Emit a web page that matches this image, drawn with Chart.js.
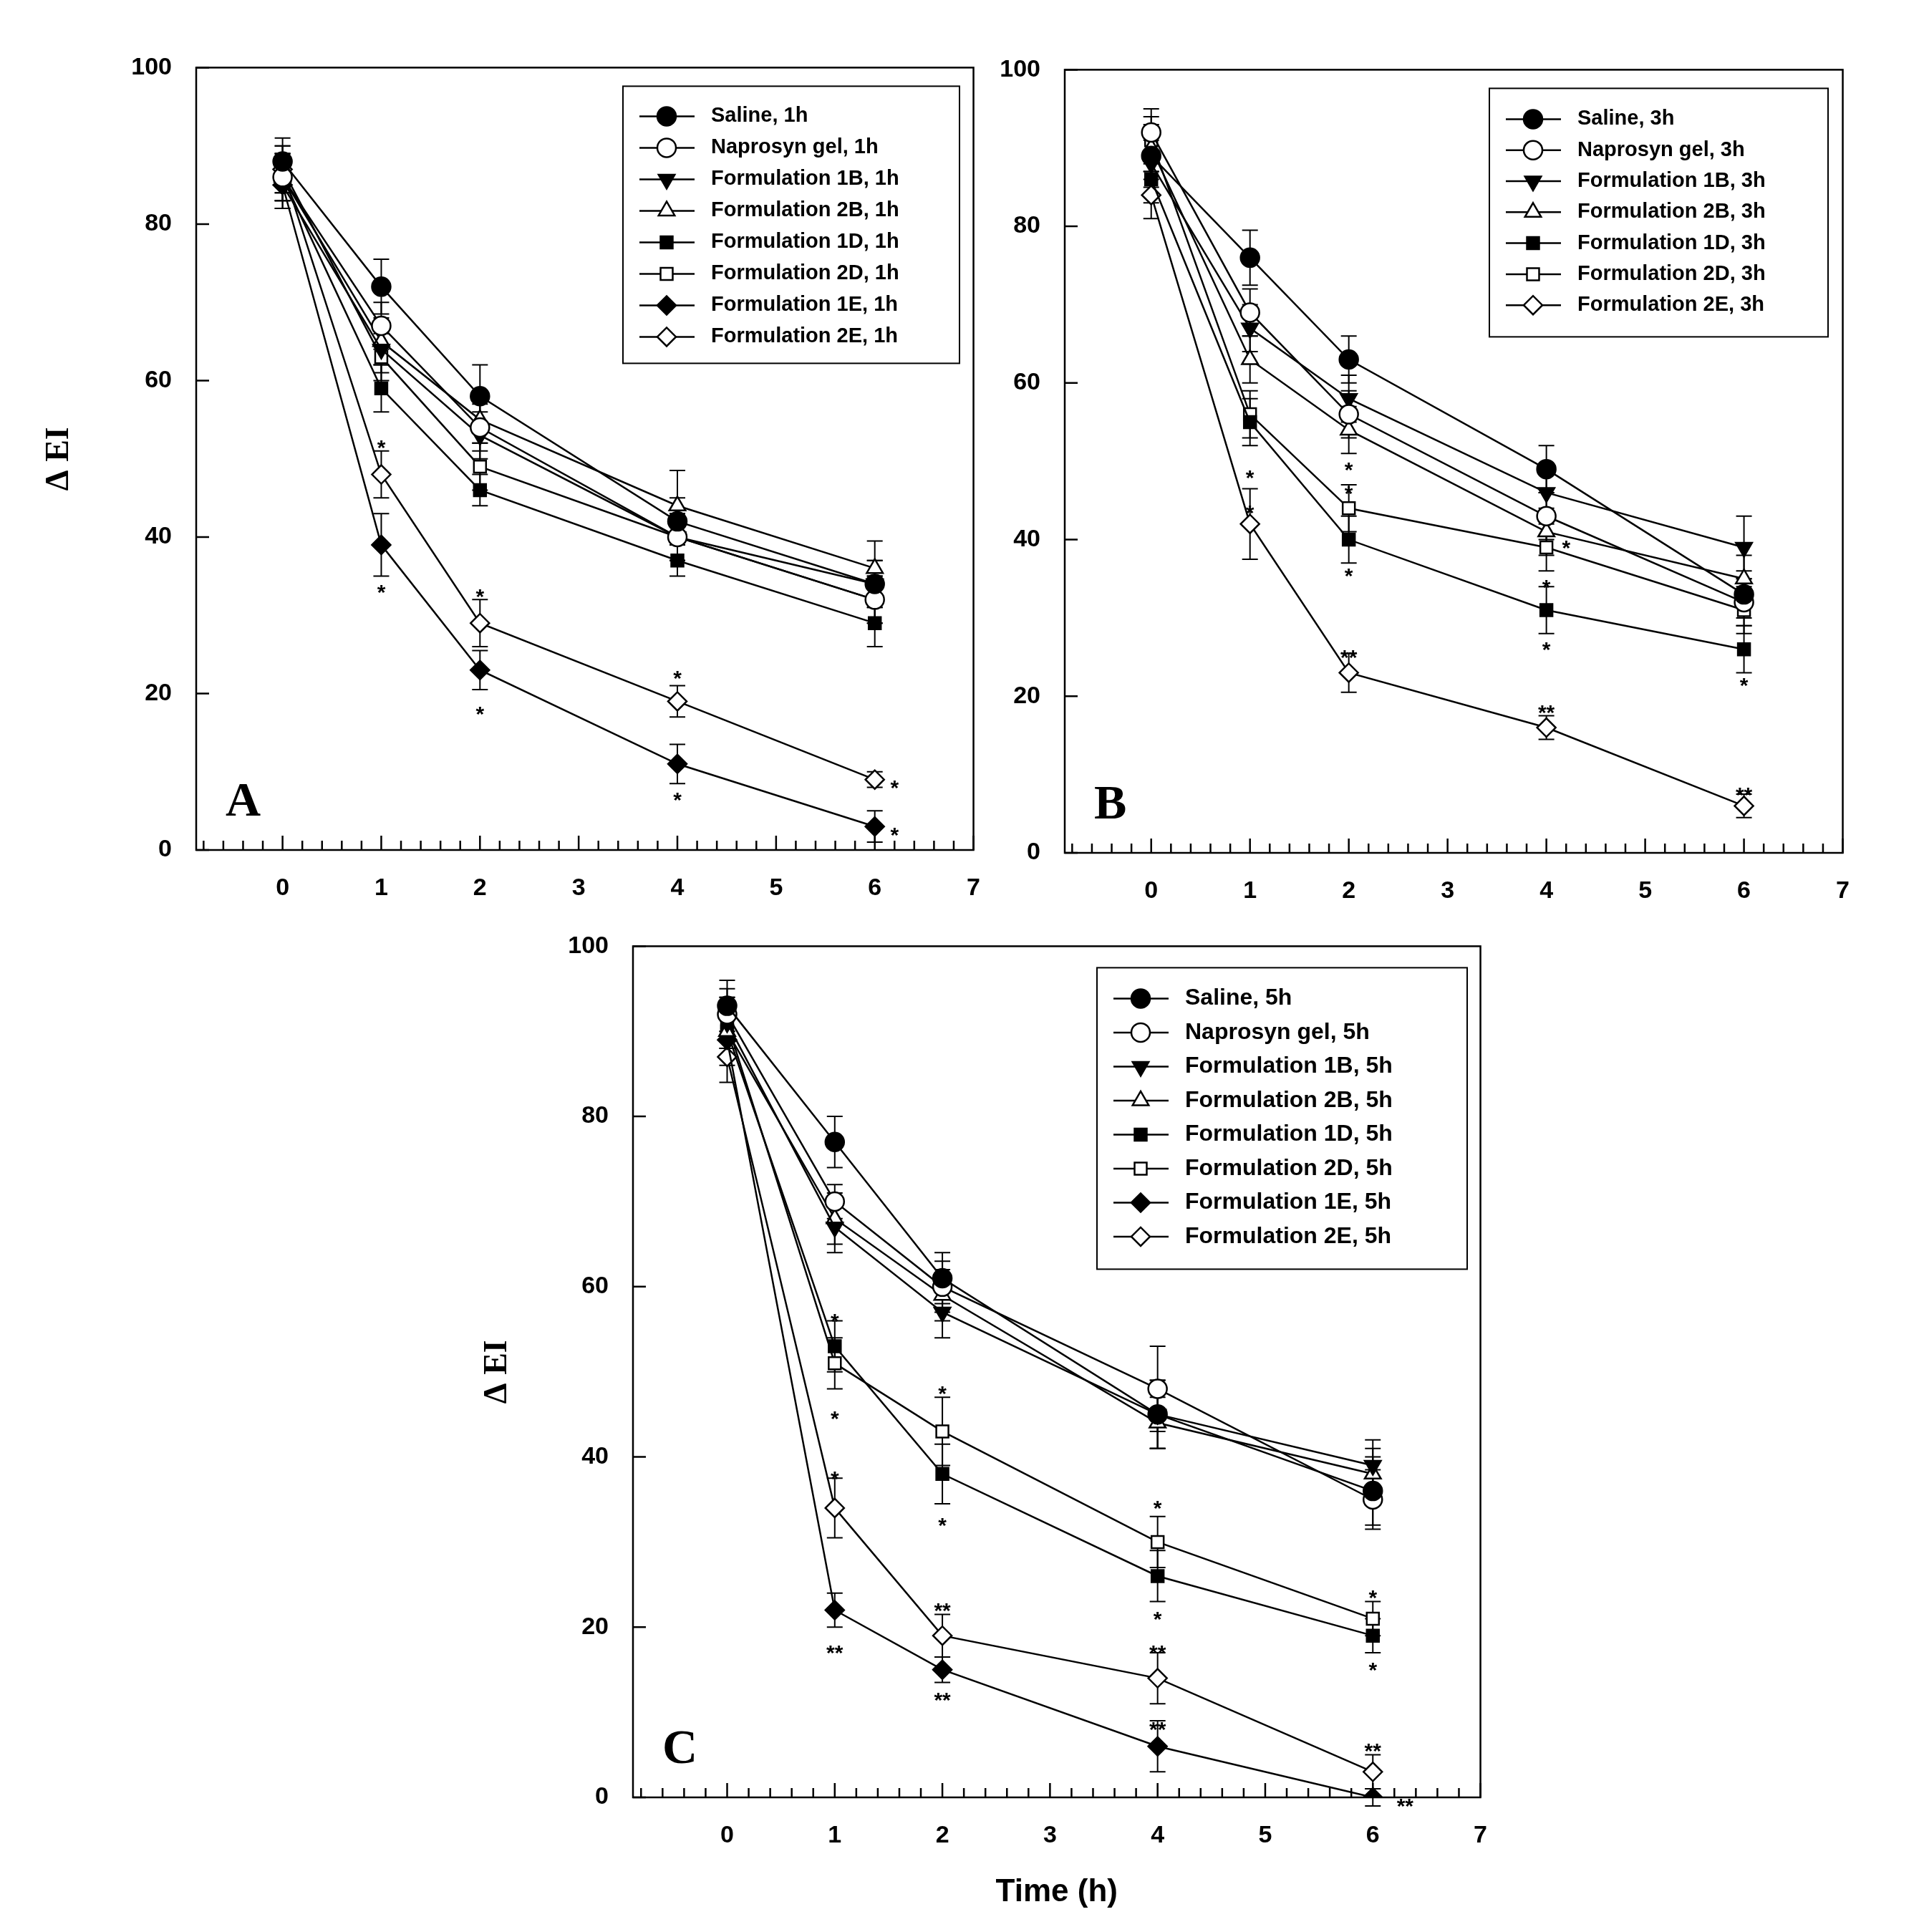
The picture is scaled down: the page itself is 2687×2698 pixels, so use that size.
<!DOCTYPE html>
<html>
<head>
<meta charset="utf-8">
<script src="https://cdn.jsdelivr.net/npm/chart.js@4.4.0/dist/chart.umd.min.js"></script>
<style>
  body { margin: 0; background: #fff; width: 2687px; height: 2698px; position: relative; overflow: hidden; }
  canvas { position: absolute; }
</style>
</head>
<body>
<canvas id="panelA" style="left:0px;top:48px;width:1394px;height:1219px" width="1394" height="1219"></canvas>
<canvas id="panelB" style="left:1367px;top:51px;width:1241px;height:1220px" width="1241" height="1220"></canvas>
<canvas id="panelC" style="left:650px;top:1275px;width:1452px;height:1415px" width="1452" height="1415"></canvas>
<script>
// time points (h)
const times = [0, 1, 2, 4, 6];
const xTickLabels = [0, 1, 2, 3, 4, 5, 6, 7];
const yTickLabels = [0, 20, 40, 60, 80, 100];

// series styles (marker, filled?)
const seriesNames = ["Saline", "Naprosyn gel", "Formulation 1B", "Formulation 2B",
                     "Formulation 1D", "Formulation 2D", "Formulation 1E", "Formulation 2E"];
const markerStyle = [["circle", true, 0], ["circle", false, 0], ["triangle", true, 180], ["triangle", false, 0],
                     ["rect", true, 0], ["rect", false, 0], ["rectRot", true, 0], ["rectRot", false, 0]];

// Panel A - 1h
const aSaline    = [88, 72, 58, 42, 34];
const aNaprosyn  = [86, 67, 54, 40, 32];
const a1B        = [85, 64, 53, 40, 34];
const a2B        = [86, 65, 55, 44, 36];
const a1D        = [86, 59, 46, 37, 29];
const a2D        = [87, 63, 49, 40, 32];
const a1E        = [85, 39, 23, 11, 3];
const a2E        = [87, 48, 29, 19, 9];
const aErr       = [[3, 3.5, 4, 3, 3], [3, 3, 3, 3, 3], [3, 3, 3, 3, 3], [3, 3, 3, 4.5, 3.5],
                    [3, 3, 2, 2, 3], [3, 3, 3, 3, 3], [3, 4, 2.5, 2.5, 2], [3, 3, 3, 2, 1]];
const aStars     = [[1, 52, "*"], [1, 33.5, "*"], [2, 33, "*"], [2, 18, "*"], [4, 22.5, "*"], [4, 7, "*"],
                    [6.2, 8.5, "*"], [6.2, 2.5, "*"]];

// Panel B - 3h
const bSaline    = [89, 76, 63, 49, 33];
const bNaprosyn  = [92, 69, 56, 43, 32];
const b1B        = [88, 67, 58, 46, 39];
const b2B        = [90, 63, 54, 41, 35];
const b1D        = [86, 55, 40, 31, 26];
const b2D        = [91, 56, 44, 39, 31];
const b2E        = [84, 42, 23, 16, 6];
const bErr       = [[3, 3.5, 3, 3, 3], [3, 3, 3, 3, 3], [3, 3, 3, 3, 4], [3, 3, 3, 3, 3],
                    [3, 3, 3, 3, 3], [3, 3, 3, 3, 3], [3, 4.5, 2.5, 1.5, 1.5]];
const bStars     = [[1, 48.5, "*"], [1, 44, "*"], [2, 49.5, "*"], [2, 46.5, "*"], [2, 36, "*"], [2, 25.5, "**"],
                    [4.2, 39.5, "*"], [4, 34.5, "*"], [4, 26.5, "*"], [4, 18.5, "**"], [6, 22, "*"], [6, 8, "**"]];

// Panel C - 5h
const cSaline    = [93, 77, 61, 45, 36];
const cNaprosyn  = [92, 70, 60, 48, 35];
const c1B        = [91, 67, 57, 45, 39];
const c2B        = [90, 68, 59, 44, 38];
const c1D        = [90, 53, 38, 26, 19];
const c2D        = [91, 51, 43, 30, 21];
const c1E        = [89, 22, 15, 6, 0];
const c2E        = [87, 34, 19, 14, 3];
const cErr       = [[3, 3, 3, 4, 4], [3, 2, 3, 5, 3.5], [3, 3, 3, 4, 3], [3, 3, 3, 3, 3],
                    [3, 3, 3.5, 3, 2], [3, 3, 4, 3, 2], [3, 2, 1.5, 3, 1], [3, 3.5, 2.5, 3, 2]];
const cStars     = [[1, 56.5, "*"], [1, 45, "*"], [1, 38, "*"], [1, 17.5, "**"], [2, 48, "*"], [2, 32.5, "*"],
                    [2, 22.5, "**"], [2, 12, "**"], [4, 34.5, "*"], [4, 21.5, "*"], [4, 17.5, "**"], [4, 8.5, "**"],
                    [6, 24, "*"], [6, 15.5, "*"], [6, 6, "**"], [6.3, -0.5, "**"]];

const FONT = "'Liberation Sans', Arial, sans-serif";

function buildDatasets(seriesList, styleIdx, errs) {
  return seriesList.map((vals, i) => {
    const [ps, filled, rot] = markerStyle[styleIdx[i]];
    return {
      data: times.map((t, k) => ({ x: t, y: vals[k] })),
      errs: errs[i],
      borderColor: "#000",
      backgroundColor: filled ? "#000" : "#fff",
      pointBorderColor: "#000",
      pointBackgroundColor: filled ? "#000" : "#fff",
      pointStyle: ps,
      pointRotation: rot,
      pointRadius: ps === "rect" ? 12 : 13,
      pointBorderWidth: 2.5,
      borderWidth: 2.5,
      tension: 0
    };
  });
}

const panelPlugin = {
  id: "panelExtras",
  beforeDatasetsDraw(chart) {
    const { ctx, chartArea: ca } = chart;
    const xs = chart.scales.x, ys = chart.scales.y;
    ctx.save();
    ctx.strokeStyle = "#000";
    // error bars
    ctx.lineWidth = 2;
    chart.data.datasets.forEach(ds => {
      ds.data.forEach((p, k) => {
        const e = ds.errs[k];
        const px = xs.getPixelForValue(p.x);
        const y1 = ys.getPixelForValue(p.y + e), y2 = ys.getPixelForValue(p.y - e);
        ctx.beginPath();
        ctx.moveTo(px, y1); ctx.lineTo(px, y2);
        ctx.moveTo(px - 11, y1); ctx.lineTo(px + 11, y1);
        ctx.moveTo(px - 11, y2); ctx.lineTo(px + 11, y2);
        ctx.stroke();
      });
    });
    // frame
    ctx.lineWidth = 2.5;
    ctx.strokeRect(ca.left, ca.top, ca.right - ca.left, ca.bottom - ca.top);
    // x minor/major ticks
    ctx.beginPath();
    for (let v = -0.8; v <= 7.001; v += 0.2) {
      const px = xs.getPixelForValue(v);
      const major = Math.abs(v - Math.round(v)) < 0.01;
      ctx.moveTo(px, ca.bottom);
      ctx.lineTo(px, ca.bottom - (major ? 20 : 13));
    }
    yTickLabels.forEach(v => {
      const py = ys.getPixelForValue(v);
      ctx.moveTo(ca.left, py); ctx.lineTo(ca.left + 18, py);
    });
    ctx.stroke();
    ctx.restore();
  },
  afterDatasetsDraw(chart) {
    const { ctx, chartArea: ca } = chart;
    const o = chart.options.plugins.panelExtras;
    const xs = chart.scales.x, ys = chart.scales.y;
    ctx.save();
    // significance stars
    ctx.fillStyle = "#000";
    ctx.font = "bold 30px " + FONT;
    ctx.textAlign = "center";
    ctx.textBaseline = "middle";
    o.stars.forEach(([x, y, s]) => ctx.fillText(s, xs.getPixelForValue(x), ys.getPixelForValue(y) + 8));
    // panel letter
    ctx.font = "bold 68px 'Liberation Serif', 'Times New Roman', serif";
    ctx.textAlign = "left";
    ctx.textBaseline = "alphabetic";
    ctx.fillText(o.letter, ca.left + 41, ca.bottom - 48);
    // legend
    const L = o.legend;
    const bx = ca.left + L.dx, by = ca.top + L.dy;
    ctx.lineWidth = 2;
    ctx.strokeStyle = "#000";
    ctx.fillStyle = "#fff";
    ctx.fillRect(bx, by, L.w, L.h);
    ctx.strokeRect(bx, by, L.w, L.h);
    ctx.font = "bold " + L.font + "px " + FONT;
    ctx.textBaseline = "middle";
    chart.data.datasets.forEach((ds, i) => {
      const y = by + L.first + i * L.step;
      ctx.beginPath();
      ctx.lineWidth = 2.5;
      ctx.moveTo(bx + 23, y); ctx.lineTo(bx + 100, y);
      ctx.stroke();
      ctx.fillStyle = ds.pointBackgroundColor;
      Chart.helpers.drawPoint(ctx, { pointStyle: ds.pointStyle, rotation: ds.pointRotation,
        radius: ds.pointRadius, borderWidth: 2.5 }, bx + 61, y);
      ctx.fillStyle = "#000";
      ctx.fillText(L.labels[i], bx + 123, y);
    });
    ctx.restore();
  }
};

function makePanel(id, datasets, extras, yWidth, xHeight, yTitle, yTitlePad, xTitle) {
  new Chart(document.getElementById(id), {
    type: "line",
    data: { datasets },
    plugins: [panelPlugin],
    options: {
      responsive: false,
      animation: false,
      layout: { padding: { top: 30, right: 30, left: 0, bottom: 0 } },
      plugins: { legend: { display: false }, tooltip: { enabled: false }, panelExtras: extras },
      scales: {
        x: {
          type: "linear", min: -0.875, max: 7,
          afterBuildTicks: s => { s.ticks = xTickLabels.map(v => ({ value: v })); },
          afterFit: s => { s.height = xHeight; },
          grid: { display: false }, border: { display: false },
          ticks: { color: "#000", padding: 25, font: { family: FONT, size: 34, weight: "bold" } },
          title: { display: !!xTitle, text: xTitle, color: "#000", padding: { top: 0, bottom: 21 },
                   font: { family: FONT, size: 44, weight: "bold" } }
        },
        y: {
          min: 0, max: 100,
          afterBuildTicks: s => { s.ticks = yTickLabels.map(v => ({ value: v })); },
          afterFit: s => { s.width = yWidth; },
          grid: { display: false }, border: { display: false },
          ticks: { color: "#000", padding: 26, font: { family: FONT, size: 34, weight: "bold" } },
          title: { display: !!yTitle, text: yTitle, color: "#000", padding: { top: yTitlePad, bottom: 0 },
                   font: { family: "'Liberation Serif', 'Times New Roman', serif", size: 46, weight: "bold" } }
        }
      }
    }
  });
}

makePanel("panelA",
  buildDatasets([aSaline, aNaprosyn, a1B, a2B, a1D, a2D, a1E, a2E], [0, 1, 2, 3, 4, 5, 6, 7], aErr),
  { stars: aStars, letter: "A",
    legend: { dx: 596, dy: 26, w: 470, h: 387, first: 42, step: 44, font: 29,
              labels: seriesNames.map(n => n + ", 1h") } },
  274, 80, "Δ EI", 56, "");

makePanel("panelB",
  buildDatasets([bSaline, bNaprosyn, b1B, b2B, b1D, b2D, b2E], [0, 1, 2, 3, 4, 5, 7], bErr),
  { stars: bStars, letter: "B",
    legend: { dx: 593, dy: 26, w: 473, h: 347, first: 43, step: 43.3, font: 29,
              labels: [0, 1, 2, 3, 4, 5, 7].map(i => seriesNames[i] + ", 3h") } },
  120, 80, "", 0, "");

makePanel("panelC",
  buildDatasets([cSaline, cNaprosyn, c1B, c2B, c1D, c2D, c1E, c2E], [0, 1, 2, 3, 4, 5, 6, 7], cErr),
  { stars: cStars, letter: "C",
    legend: { dx: 648, dy: 30, w: 517, h: 421, first: 43, step: 47.5, font: 32,
              labels: seriesNames.map(n => n + ", 5h") } },
  234, 180, "Δ EI", 18, "Time (h)");
</script>
</body>
</html>
